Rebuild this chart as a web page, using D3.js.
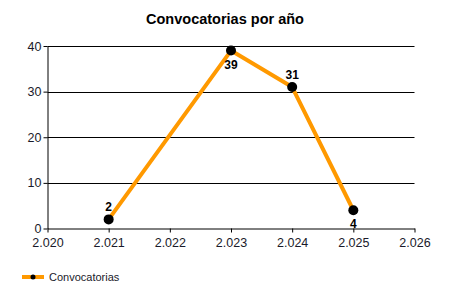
<!DOCTYPE html>
<html lang="es">
<head>
<meta charset="UTF-8">
<title>Convocatorias por año</title>
<script src="https://cdn.jsdelivr.net/npm/d3@7"></script>
<style>
  body { margin: 0; background: #fff; }
  svg text { font-family: "Liberation Sans", Arial, sans-serif; }
  .axis path, .axis line { stroke: #000; }
  .axis text { font-size: 12.5px; fill: #1a1a2a; }
</style>
</head>
<body>
<svg id="chart" width="450" height="300"></svg>
<script>
  var years = [2.021, 2.023, 2.024, 2.025];
  var counts = [2, 39, 31, 4];
  var labelAbove = [true, false, true, false];
  var xTicks = [2.020, 2.021, 2.022, 2.023, 2.024, 2.025, 2.026];
  var yTicks = [0, 10, 20, 30, 40];
  var seriesName = "Convocatorias";

  var svg = d3.select("#chart");
  var plotLeft = 47.5, plotRight = 414.5, plotTop = 46, plotBottom = 228.5;

  var x = d3.scaleLinear().domain([2.020, 2.026]).range([plotLeft, plotRight]);
  var y = d3.scaleLinear().domain([0, 40]).range([plotBottom, plotTop]);

  svg.append("text")
      .attr("x", 225).attr("y", 24)
      .attr("text-anchor", "middle")
      .style("font-size", "14.5px").style("font-weight", "bold")
      .text("Convocatorias por año");

  // gridlines
  svg.append("g").selectAll("line").data(yTicks.slice(1)).enter().append("line")
      .attr("x1", plotLeft).attr("x2", plotRight)
      .attr("y1", d => Math.round(y(d)) + 0.5).attr("y2", d => Math.round(y(d)) + 0.5)
      .attr("stroke", "#000");

  var fmt = d3.format(".3f");
  svg.append("g").attr("class", "axis")
      .attr("transform", "translate(0," + plotBottom + ")")
      .call(d3.axisBottom(x).tickValues(xTicks).tickSize(4).tickSizeOuter(0)
          .tickFormat(d => fmt(d)))
      .call(g => g.selectAll("text").attr("dy", "0.9em"));

  svg.append("g").attr("class", "axis")
      .attr("transform", "translate(" + plotLeft + ",0)")
      .call(d3.axisLeft(y).tickValues(yTicks).tickSize(4).tickSizeOuter(0))
      .call(g => g.selectAll("text").attr("dx", "1px"));

  var pts = years.map((d, i) => [d, counts[i]]);
  svg.append("path")
      .datum(pts)
      .attr("fill", "none")
      .attr("stroke", "#ff9900")
      .attr("stroke-width", 4)
      .attr("stroke-linejoin", "round")
      .attr("d", d3.line().x(d => x(d[0])).y(d => y(d[1])));

  svg.append("g").selectAll("circle").data(pts).enter().append("circle")
      .attr("cx", d => x(d[0])).attr("cy", d => y(d[1]))
      .attr("r", 5).attr("fill", "#000");

  svg.append("g").selectAll("text").data(pts).enter().append("text")
      .attr("x", d => x(d[0]))
      .attr("y", (d, i) => y(d[1]) + (labelAbove[i] ? -8 : 18))
      .attr("text-anchor", "middle")
      .style("font-size", "12px").style("font-weight", "bold")
      .attr("fill", "#000")
      .text(d => d[1]);

  // legend
  var lg = svg.append("g").attr("transform", "translate(22,277)");
  lg.append("line").attr("x1", 0).attr("x2", 22).attr("y1", 0).attr("y2", 0)
      .attr("stroke", "#ff9900").attr("stroke-width", 4);
  lg.append("circle").attr("cx", 11).attr("cy", 0).attr("r", 2.5).attr("fill", "#000");
  lg.append("text").attr("x", 27).attr("y", 4)
      .style("font-size", "11px").attr("fill", "#1a1a2a").text(seriesName);
</script>
</body>
</html>
